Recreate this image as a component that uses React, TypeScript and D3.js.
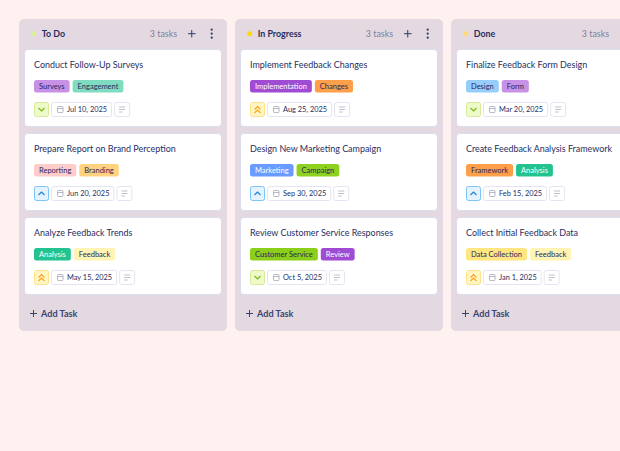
import { useEffect, useRef } from 'react'
import * as d3 from 'd3'

const columns = ['To Do', 'In Progress', 'Done']
const columnDots = ['#d9ef9a', '#ffd60a', '#ffd97a']
const taskCounts = ['3 tasks', '3 tasks', '3 tasks']

const todoTitles = ['Conduct Follow-Up Surveys', 'Prepare Report on Brand Perception', 'Analyze Feedback Trends']
const progressTitles = ['Implement Feedback Changes', 'Design New Marketing Campaign', 'Review Customer Service Responses']
const doneTitles = ['Finalize Feedback Form Design', 'Create Feedback Analysis Framework', 'Collect Initial Feedback Data']
const titles = [todoTitles, progressTitles, doneTitles]

const todoTags = [['Surveys', 'Engagement'], ['Reporting', 'Branding'], ['Analysis', 'Feedback']]
const progressTags = [['Implementation', 'Changes'], ['Marketing', 'Campaign'], ['Customer Service', 'Review']]
const doneTags = [['Design', 'Form'], ['Framework', 'Analysis'], ['Data Collection', 'Feedback']]
const tags = [todoTags, progressTags, doneTags]

const todoDates = ['Jul 10, 2025', 'Jun 20, 2025', 'May 15, 2025']
const progressDates = ['Aug 25, 2025', 'Sep 30, 2025', 'Oct 5, 2025']
const doneDates = ['Mar 20, 2025', 'Feb 15, 2025', 'Jan 1, 2025']
const dates = [todoDates, progressDates, doneDates]

const todoPriority = ['low', 'medium', 'high']
const progressPriority = ['high', 'medium', 'low']
const donePriority = ['low', 'medium', 'high']
const priorities = [todoPriority, progressPriority, donePriority]

const tagColors: Record<string, [string, string]> = {
  Surveys: ['#c792e6', '#2a2560'],
  Engagement: ['#7fdcc0', '#1f2a5a'],
  Reporting: ['#ffcdc9', '#2a2560'],
  Branding: ['#ffd27f', '#2a2560'],
  Analysis: ['#22c38e', '#ffffff'],
  Feedback: ['#fff4b3', '#2a2560'],
  Implementation: ['#a04bd4', '#ffffff'],
  Changes: ['#ff9f4a', '#2a2560'],
  Marketing: ['#6a9bff', '#ffffff'],
  Campaign: ['#8fd11f', '#2a2560'],
  'Customer Service': ['#8ccf1a', '#2a2560'],
  Review: ['#a04bd4', '#ffffff'],
  Design: ['#96cdfa', '#2a2560'],
  Form: ['#c792e6', '#2a2560'],
  Framework: ['#ff9f4a', '#2a2560'],
  'Data Collection': ['#ffe680', '#2a2560'],
}

const priorityStyle: Record<string, { fill: string; stroke: string; icon: string; paths: string[] }> = {
  low: { fill: '#eefbc8', stroke: '#d5ea9a', icon: '#7cb518', paths: ['M-3,-1.5L0,1.5L3,-1.5'] },
  medium: { fill: '#e3f3ff', stroke: '#7cc4f5', icon: '#1c7fc9', paths: ['M-3,1.5L0,-1.5L3,1.5'] },
  high: { fill: '#fff6c4', stroke: '#ffe08a', icon: '#ff9f1c', paths: ['M-3,0L0,-3L3,0', 'M-3,3.5L0,0.5L3,3.5'] },
}

const ink = '#262f63'
const font = 'Lato, sans-serif'

export default function App() {
  const svgRef = useRef<SVGSVGElement>(null)

  useEffect(() => {
    if (!svgRef.current) return
    d3.select(svgRef.current).selectAll('*').remove()
    // font has to be set before the labels get measured
    const svg = d3.select(svgRef.current).attr('font-family', font)

    const colX = d3.scaleBand<number>().domain([0, 1, 2]).range([19, 659]).paddingInner(8 / 216)
    const cardY = d3.scaleBand<number>().domain([0, 1, 2]).range([49, 295]).paddingInner(6 / 84)

    svg.append('rect').attr('width', 620).attr('height', 451).attr('fill', '#fff1f0')

    columns.forEach((name, c) => {
      const g = svg.append('g').attr('transform', `translate(${colX(c)},19)`)
      const w = colX.bandwidth()
      g.append('rect').attr('width', w).attr('height', 312).attr('rx', 5).attr('fill', '#e4d9e0')
      g.append('circle').attr('cx', 14.7).attr('cy', 14.7).attr('r', 2.5).attr('fill', columnDots[c])
      g.append('text').attr('x', 22.7).attr('y', 18).attr('font-size', 8.9).attr('font-weight', 700).attr('fill', ink).text(name)
      g.append('text').attr('x', 158).attr('y', 18).attr('text-anchor', 'end').attr('font-size', 8.9).attr('fill', '#7f7f9c').text(taskCounts[c])
      if (c < 2) {
        g.append('path').attr('d', 'M169,14.7h7.5M172.75,11v7.5').attr('stroke', '#2f3a68').attr('stroke-width', 1).attr('fill', 'none')
        ;[10.7, 14.7, 18.7].forEach(cy => g.append('circle').attr('cx', 192.7).attr('cy', cy).attr('r', 1.1).attr('fill', '#2f3a68'))
      }

      // add task row
      g.append('path').attr('d', 'M11,294.5h7M14.5,291v7').attr('stroke', '#3a4470').attr('stroke-width', 1).attr('fill', 'none')
      g.append('text').attr('x', 22).attr('y', 298).attr('font-size', 9.1).attr('font-weight', 700).attr('fill', '#3a4470').text('Add Task')

      titles[c].forEach((title, i) => {
        const card = g.append('g').attr('transform', `translate(5,${(cardY(i) as number) - 19})`)
        const cardH = cardY.bandwidth()
        card.append('rect').attr('x', 0.5).attr('y', 0.5).attr('width', w - 11).attr('height', cardH - 1).attr('rx', 3.5)
          .attr('fill', '#ffffff').attr('stroke', '#dcdcf0')
        card.append('text').attr('x', 10).attr('y', 19).attr('font-size', 8.95).attr('fill', ink).text(title)

        // tags flow left to right, width comes from the label
        let tx = 10
        tags[c][i].forEach(tag => {
          const [bg, fg] = tagColors[tag]
          const r = card.append('rect').attr('x', tx).attr('y', 31).attr('height', 12.5).attr('rx', 2.5).attr('fill', bg)
          const t = card.append('text').attr('x', tx + 5).attr('y', 40).attr('font-size', 7.5).attr('fill', fg).text(tag)
          const tw = (t.node() as SVGTextElement).getComputedTextLength() + 10
          r.attr('width', tw)
          tx += tw + 3
        })

        // priority box
        const p = priorityStyle[priorities[c][i]]
        card.append('rect').attr('x', 10.5).attr('y', 53.5).attr('width', 14).attr('height', 14).attr('rx', 2)
          .attr('fill', p.fill).attr('stroke', p.stroke)
        p.paths.forEach(d => {
          card.append('path').attr('d', d).attr('transform', 'translate(17.5,60.5)').attr('fill', 'none')
            .attr('stroke', p.icon).attr('stroke-width', 1.1)
        })

        // date box
        const dateBox = card.append('rect').attr('x', 27.5).attr('y', 53.5).attr('height', 14).attr('rx', 2)
          .attr('fill', '#fff').attr('stroke', '#e4e4f2')
        card.append('rect').attr('x', 33.5).attr('y', 57.5).attr('width', 5.5).attr('height', 6).attr('rx', 0.8)
          .attr('fill', 'none').attr('stroke', '#9a9ab0').attr('stroke-width', 0.7)
        card.append('path').attr('d', 'M33.5,59.5h5.5').attr('stroke', '#9a9ab0').attr('stroke-width', 0.7)
        const dt = card.append('text').attr('x', 43).attr('y', 63.3).attr('font-size', 7.4).attr('fill', ink).text(dates[c][i])
        const dw = (dt.node() as SVGTextElement).getComputedTextLength() + 20
        dateBox.attr('width', dw)

        // notes box
        const nx = 27.5 + dw + 3
        card.append('rect').attr('x', nx).attr('y', 53.5).attr('width', 15).attr('height', 14).attr('rx', 2)
          .attr('fill', '#fff').attr('stroke', '#e4e4f2')
        card.append('path').attr('d', `M${nx + 4.5},58h6M${nx + 4.5},60.5h6M${nx + 4.5},63h3.5`)
          .attr('stroke', '#a4a4ba').attr('stroke-width', 0.7)
      })
    })
  }, [])

  return <svg ref={svgRef} width={620} height={451} style={{ position: 'absolute', left: 0, top: 0 }} />
}
